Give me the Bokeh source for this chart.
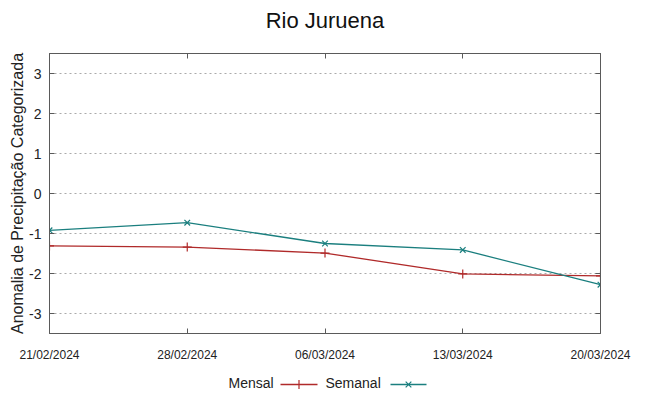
from datetime import datetime
from bokeh.plotting import figure
from bokeh.layouts import column
from bokeh.models import (Range1d, FixedTicker, DatetimeTickFormatter, LinearAxis,
                          DatetimeAxis, CustomJSTickFormatter)
from bokeh.core.properties import value
from bokeh.embed import file_html
from bokeh.resources import INLINE

# ---- data ----
dates = ["21/02/2024", "28/02/2024", "06/03/2024", "13/03/2024", "20/03/2024"]
mensal = [-1.31, -1.34, -1.49, -2.01, -2.06]
semanal = [-0.92, -0.73, -1.25, -1.41, -2.28]
y_ticks = [-3, -2, -1, 0, 1, 2, 3]
series_names = ["Mensal", "Semanal"]
title_text = "Rio Juruena"
y_label = "Anomalia de Precipitação Categorizada"

RED = "#b02a2a"
TEAL = "#1b7f7f"
FONT = "Liberation Sans"
AX = "#5a5a5a"
TXT = "#222222"

x = [datetime.strptime(d, "%d/%m/%Y") for d in dates]
x_ms = [(d - datetime(1970, 1, 1)).total_seconds() * 1000 for d in x]

W = 633
TH = 40     # title row
PH = 324    # main plot
LH = 30     # legend row


def strip(fig):
    fig.outline_line_color = None
    fig.grid.visible = False
    return fig


# ---- title row ----
tfig = strip(figure(width=W, height=TH, output_backend="svg", toolbar_location=None,
                    x_range=Range1d(49, 600), y_range=Range1d(0, TH),
                    x_axis_location=None, y_axis_location=None,
                    min_border=0, min_border_left=0, min_border_right=0,
                    min_border_top=0, min_border_bottom=0))
tfig.text(x=[324.5], y=[TH - 20], text=[title_text], text_font=value(FONT),
          text_font_size="22px", text_align="center", text_baseline="alphabetic",
          text_color="#111111")

# ---- main plot ----
p = figure(width=W, height=PH, output_backend="svg", toolbar_location=None,
           x_axis_type="datetime",
           x_range=Range1d(x[0], x[-1]), y_range=Range1d(-3.5, 3.5),
           min_border_left=49, min_border_right=33, min_border_top=13, min_border_bottom=29)

r1 = p.line(x, mensal, color=RED, line_width=1.3)
m1 = p.scatter(x, mensal, marker="cross", size=9, color=RED, line_width=1.2)
r2 = p.line(x, semanal, color=TEAL, line_width=1.3)
m2 = p.scatter(x, semanal, marker="x", size=8, color=TEAL, line_width=1.2)

xa = p.xaxis[0]
xa.ticker = FixedTicker(ticks=x_ms)
fmt = "%d/%m/%Y"
xa.formatter = DatetimeTickFormatter(days=fmt, months=fmt, years=fmt, hours=fmt,
                                     minutes=fmt, seconds=fmt, milliseconds=fmt,
                                     microseconds=fmt, hourmin=fmt, minsec=fmt)
xa.major_tick_in = 5
xa.major_tick_out = 0
xa.minor_tick_in = 0
xa.minor_tick_out = 0
xa.major_label_standoff = 14
xa.major_label_text_font = FONT
xa.major_label_text_font_size = "12px"
xa.major_label_text_color = TXT
xa.axis_line_color = AX
xa.major_tick_line_color = AX

ya = p.yaxis[0]
ya.ticker = FixedTicker(ticks=y_ticks)
ya.formatter = CustomJSTickFormatter(code="return tick.toFixed(0)")
ya.major_tick_in = 5
ya.major_tick_out = 0
ya.minor_tick_in = 0
ya.minor_tick_out = 0
ya.major_label_standoff = 8
ya.major_label_text_font = FONT
ya.major_label_text_font_size = "14px"
ya.major_label_text_color = TXT
ya.axis_label = y_label
ya.axis_label_text_font = FONT
ya.axis_label_text_font_size = "16px"
ya.axis_label_text_font_style = "normal"
ya.axis_label_text_color = TXT
ya.axis_label_standoff = 0
ya.axis_line_color = AX
ya.major_tick_line_color = AX

ra = LinearAxis(ticker=FixedTicker(ticks=y_ticks), major_tick_in=5, major_tick_out=0,
                minor_tick_in=0, minor_tick_out=0, formatter=CustomJSTickFormatter(code="return ''"),
                major_label_standoff=0,
                axis_line_color=AX, major_tick_line_color=AX)
p.add_layout(ra, "right")
ta = DatetimeAxis(ticker=FixedTicker(ticks=x_ms), major_tick_in=5, major_tick_out=0,
                  minor_tick_in=0, minor_tick_out=0, formatter=CustomJSTickFormatter(code="return ''"),
                  major_label_standoff=0,
                  axis_line_color=AX, major_tick_line_color=AX)
p.add_layout(ta, "above")

p.outline_line_color = AX
p.xgrid.visible = False
p.ygrid.ticker = FixedTicker(ticks=y_ticks)
p.ygrid.grid_line_color = "#aaaaaa"
p.ygrid.grid_line_dash = "2 3"
p.ygrid.grid_line_width = 1

# ---- legend row (text first, then sample, as in the reference) ----
leg = strip(figure(width=W, height=LH, output_backend="svg", toolbar_location=None,
                   x_range=Range1d(49, 600), y_range=Range1d(0, LH),
                   x_axis_location=None, y_axis_location=None,
                   min_border=0, min_border_left=0, min_border_right=0,
                   min_border_top=0, min_border_bottom=0))
top = TH + PH
ty = LH - (382 - top)
sy = LH - (384 - top)
leg.text(x=[228, 325], y=[ty, ty], text=series_names, text_font=value(FONT),
         text_font_size="14px", text_baseline="middle", text_align="left", text_color=TXT)
leg.line(x=[280, 317], y=[sy, sy], color=RED, line_width=1.3)
leg.scatter(x=[298.5], y=[sy], marker="cross", size=9, color=RED, line_width=1.2)
leg.line(x=[390, 426], y=[sy, sy], color=TEAL, line_width=1.3)
leg.scatter(x=[408], y=[sy], marker="x", size=8, color=TEAL, line_width=1.2)

layout = column(tfig, p, leg, spacing=0)
open("out.html", "w").write(file_html(layout, INLINE))
